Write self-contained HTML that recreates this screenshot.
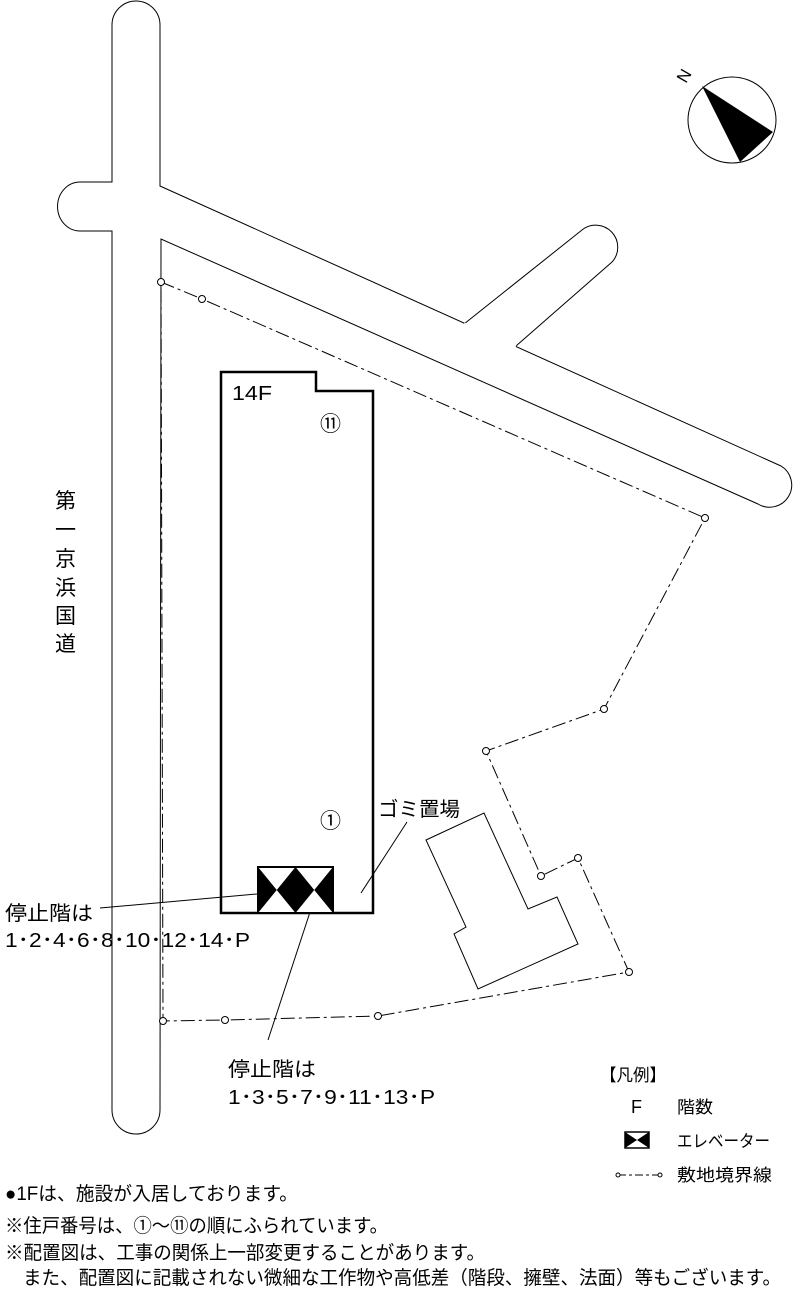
<!DOCTYPE html>
<html><head><meta charset="utf-8"><style>
html,body{margin:0;padding:0;background:#fff;}
svg text{font-family:"Liberation Sans","Noto Sans CJK JP",sans-serif;fill:#000;}
</style></head><body>
<svg width="800" height="1291" viewBox="0 0 800 1291" xmlns="http://www.w3.org/2000/svg">
<g fill="none" stroke="#000" stroke-width="1">
<path d="M112,1110 L112,231 L80,231 A22,24 0 0 1 80,182 L112,182 L112,25 A24,24 0 0 1 160,25 L160,186 L781,466 A18,18 0 0 1 758,504 L161,239 L160,1110 A24,24 0 0 1 112,1110 Z"/>
<path d="M464,324 L582,230 A22,22 0 0 1 612,262 L516,346"/>
<line x1="464" y1="324" x2="516" y2="346" stroke="#fff" stroke-width="3"/>
<polyline points="161,282 202,299 705,518 604,709 486,751 541,876 578,858 629,972 378,1016 225,1020 163,1021 161,282" stroke-dasharray="14,4,3,4"/>
<polygon points="426,840 484,813 528,909 557,897 578,944 478,989 454,934 466,927"/>
<line x1="100" y1="908" x2="257" y2="894"/>
<line x1="313" y1="903" x2="268" y2="1040"/>
<line x1="361" y1="893" x2="407" y2="822"/>
<ellipse cx="732" cy="120" rx="44" ry="43"/>
</g>
<g fill="#fff" stroke="#000" stroke-width="1">
<circle cx="161" cy="282" r="3.5"/><circle cx="202" cy="299" r="3.5"/><circle cx="705" cy="518" r="3.5"/><circle cx="604" cy="709" r="3.5"/><circle cx="486" cy="751" r="3.5"/><circle cx="541" cy="876" r="3.5"/><circle cx="578" cy="858" r="3.5"/><circle cx="629" cy="972" r="3.5"/><circle cx="378" cy="1016" r="3.5"/><circle cx="225" cy="1020" r="3.5"/><circle cx="163" cy="1021" r="3.5"/>
</g>
<polygon points="702,86 773,132 740,162" fill="#000"/>
<text x="0" y="0" font-size="17" transform="translate(686,84) rotate(-60)">N</text>
<polygon points="221,372 316,372 316,391 373,391 373,913 221,913" fill="none" stroke="#000" stroke-width="2.5"/>
<rect x="258" y="867" width="75" height="46" fill="#fff" stroke="#000" stroke-width="2"/>
<path d="M258,867 L258,913 L276.75,890 Z M333,867 L333,913 L314.25,890 Z" fill="#000"/>
<path d="M276.75,890 L295.5,867 L314.25,890 L295.5,913 Z" fill="#000"/>
<text x="232" y="400" font-size="20" textLength="40" lengthAdjust="spacingAndGlyphs">14F</text>
<text x="320" y="431" font-size="21">⑪</text>
<text x="320" y="828" font-size="21">①</text>
<text x="378" y="816" font-size="20" textLength="82" lengthAdjust="spacingAndGlyphs">ゴミ置場</text>
<g font-size="21">
<text x="55" y="508">第</text><text x="55" y="537">一</text><text x="55" y="566">京</text><text x="55" y="595">浜</text><text x="55" y="623">国</text><text x="55" y="651">道</text>
</g>
<text x="5" y="920" font-size="20" textLength="88" lengthAdjust="spacingAndGlyphs">停止階は</text>
<text x="5" y="947" font-size="20" textLength="245" lengthAdjust="spacingAndGlyphs">1･2･4･6･8･10･12･14･P</text>
<text x="228" y="1076" font-size="20" textLength="88" lengthAdjust="spacingAndGlyphs">停止階は</text>
<text x="228" y="1104" font-size="20" textLength="207" lengthAdjust="spacingAndGlyphs">1･3･5･7･9･11･13･P</text>
<text x="600" y="1081" font-size="17" textLength="66" lengthAdjust="spacingAndGlyphs">【凡例】</text>
<text x="631" y="1113" font-size="18">F</text>
<text x="677" y="1113" font-size="17" textLength="36" lengthAdjust="spacingAndGlyphs">階数</text>
<path d="M625,1132 L625,1148 L637,1140 Z M649,1132 L649,1148 L637,1140 Z" fill="#000"/>
<rect x="625" y="1132" width="24" height="16" fill="none" stroke="#000" stroke-width="1.5"/>
<text x="677" y="1147" font-size="17" textLength="93" lengthAdjust="spacingAndGlyphs">エレベーター</text>
<line x1="618" y1="1175" x2="660" y2="1175" stroke="#000" stroke-dasharray="8,3,3,3"/>
<circle cx="618" cy="1175" r="2" fill="#fff" stroke="#000"/><circle cx="660" cy="1175" r="2" fill="#fff" stroke="#000"/>
<text x="677" y="1181" font-size="17" textLength="95" lengthAdjust="spacingAndGlyphs">敷地境界線</text>
<text x="5" y="1200" font-size="19" textLength="293" lengthAdjust="spacingAndGlyphs">●1Fは、施設が入居しております。</text>
<text x="5" y="1232" font-size="19" textLength="383" lengthAdjust="spacingAndGlyphs">※住戸番号は、①～⑪の順にふられています。</text>
<text x="5" y="1259" font-size="19" textLength="480" lengthAdjust="spacingAndGlyphs">※配置図は、工事の関係上一部変更することがあります。</text>
<text x="23" y="1284" font-size="19" textLength="758" lengthAdjust="spacingAndGlyphs">また、配置図に記載されない微細な工作物や高低差（階段、擁壁、法面）等もございます。</text>
</svg>
</body></html>
